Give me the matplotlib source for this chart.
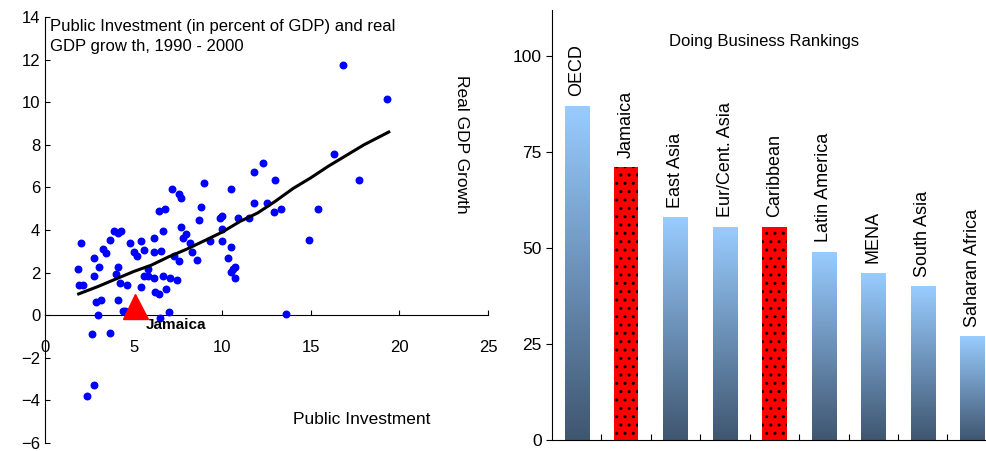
import numpy as np
import matplotlib.pyplot as plt
from matplotlib.colors import LinearSegmentedColormap

plt.rcParams['font.family'] = ['Liberation Sans', 'DejaVu Sans']

# scatter data: public investment (% of GDP) vs real GDP growth
inv = [1.84, 2.05, 1.93, 2.16, 2.76, 2.76, 2.87, 2.99, 3.06, 3.17, 3.29, 3.47, 2.67, 2.78, 2.35,
       3.66, 3.68, 3.89, 4.0, 4.1, 4.1, 4.13, 4.21, 4.3, 4.38, 4.53, 4.6, 4.81, 5.01, 5.22,
       5.43, 5.43, 5.6, 5.6, 5.84, 5.84, 6.14, 6.14, 6.14, 6.23, 6.44, 6.44, 6.54, 6.48, 6.65,
       6.65, 6.76, 6.85, 6.97, 7.06, 7.17, 7.27, 7.47, 7.57, 7.57, 7.66, 7.66, 7.77, 7.98, 8.19,
       8.28, 8.58, 8.69, 8.79, 9.0, 9.3, 9.9, 10.0, 10.0, 10.0, 10.3, 10.5, 10.5, 10.5, 10.6,
       10.7, 10.7, 10.9, 11.5, 11.8, 11.8, 12.3, 12.5, 12.9, 13.0, 13.3, 13.6, 14.9, 15.4, 16.3,
       16.8, 17.7, 19.3]
growth = [2.18, 3.38, 1.41, 1.41, 2.70, 1.84, 0.63, 0.03, 2.26, 0.72, 3.12, 2.94, -0.89, -3.30, -3.81,
          -0.82, 3.55, 3.97, 1.92, 2.26, 0.72, 3.88, 1.49, 3.97, 0.22, 0.22, 1.41, 3.38, 2.95, 2.78,
          3.47, 1.33, 3.05, 1.84, 1.84, 2.18, 3.63, 2.95, 1.76, 1.07, 0.99, 4.91, 3.03, -0.13, 3.97,
          1.84, 4.99, 1.24, 0.13, 1.76, 5.93, 2.78, 1.66, 2.53, 5.68, 5.51, 4.14, 3.63, 3.80, 3.38,
          2.95, 2.61, 4.49, 5.09, 6.20, 3.47, 4.57, 4.66, 4.05, 3.47, 2.70, 3.20, 5.93, 2.01, 2.18,
          2.28, 1.76, 4.57, 4.57, 5.26, 6.70, 7.14, 5.26, 4.84, 6.37, 4.99, 0.05, 3.55, 5.0, 7.57,
          11.76, 6.37, 10.13]
trend_x = [1.9, 3, 4, 5, 6, 7, 8, 9, 10, 11, 12, 13, 14, 15, 16, 17, 18, 19.4]
trend_y = [1.0, 1.35, 1.7, 2.05, 2.35, 2.75, 3.1, 3.5, 3.9, 4.4, 4.8, 5.35, 5.95, 6.45, 7.0, 7.5, 8.0, 8.6]
jam_x, jam_y = 5.1, 0.45

# doing business rankings
regions = ['OECD', 'Jamaica', 'East Asia', 'Eur/Cent. Asia', 'Caribbean', 'Latin America',
           'MENA', 'South Asia', 'Saharan Africa']
ranks = [87, 71, 58, 55.5, 55.5, 49, 43.5, 40, 27]
highlight = ['Jamaica', 'Caribbean']

fig = plt.figure(figsize=(9.87, 4.51), dpi=100)

# left panel
ax = fig.add_axes([45/987, 8/451, 443/987, 426/451])
ax.scatter(inv, growth, s=22, color='#0000ff', zorder=3)
ax.plot(trend_x, trend_y, color='black', lw=2.2, zorder=4)
ax.plot(jam_x, jam_y, marker='^', color='red', ms=18, zorder=5)
ax.text(jam_x + 0.6, -0.15, 'Jamaica', fontsize=11, fontweight='bold', va='top')
ax.set_xlim(0, 25)
ax.set_ylim(-6, 14)
ax.spines['top'].set_visible(False)
ax.spines['right'].set_visible(False)
ax.spines['left'].set_position(('data', 0))
ax.spines['bottom'].set_position(('data', 0))
ax.set_xticks([0, 5, 10, 15, 20, 25])
ax.set_yticks(range(-6, 15, 2))
ax.tick_params(axis='x', direction='in', labelsize=12, pad=18)
ax.tick_params(axis='y', direction='in', labelsize=12)
ax.text(0.3, 13.9, 'Public Investment (in percent of GDP) and real\nGDP grow th, 1990 - 2000',
        fontsize=12, va='top', linespacing=1.4)
ax.text(23.5, 8, 'Real GDP Growth', rotation=-90, fontsize=12.5, va='center', ha='center')
ax.text(14, -5.1, 'Public Investment', fontsize=12.5)

# right panel
ax2 = fig.add_axes([552/987, 11/451, 433/987, 430/451])
xs = np.arange(len(regions))
grad = np.linspace(0, 1, 256).reshape(-1, 1)
cmap = LinearSegmentedColormap.from_list('g', ['#3f5670', '#99ccff'])
for x, v, name in zip(xs, ranks, regions):
    if name in highlight:
        ax2.bar(x, v, width=0.49, color='red', edgecolor='black', hatch='..', lw=0)
    else:
        b = ax2.bar(x, v, width=0.49, color='none', lw=0)[0]
        im = ax2.imshow(grad, extent=[x - 0.245, x + 0.245, 0, v], origin='lower',
                        cmap=cmap, aspect='auto', zorder=1)
        im.set_clip_path(b)
    ax2.text(x, v + 2.5, name, rotation=90, ha='center', va='bottom', fontsize=13)
ax2.set_xlim(-0.5, 8.26)
ax2.set_ylim(0, 112)
ax2.set_xticks(xs[:-1] + 0.5)
ax2.set_xticklabels([])
ax2.set_yticks([0, 25, 50, 75, 100])
ax2.tick_params(axis='y', labelsize=12.5, length=4)
ax2.tick_params(axis='x', direction='in', length=4)
for s in ['top', 'right']:
    ax2.spines[s].set_visible(False)
ax2.text(3.8, 102.5, 'Doing Business Rankings', ha='center', fontsize=12)

plt.savefig('out.png')
